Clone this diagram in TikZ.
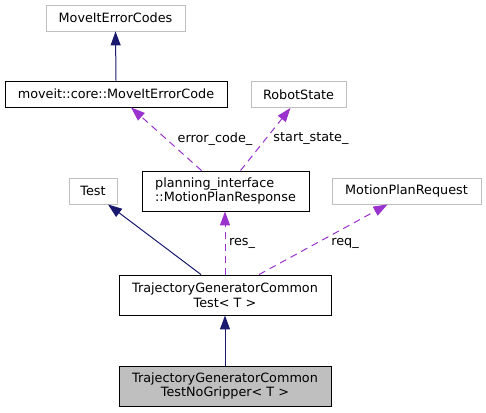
\documentclass[tikz,border=0pt]{standalone}
\usepackage{fontspec}
\setmainfont{DejaVu Sans}
\usetikzlibrary{arrows.meta}
\definecolor{edgenavy}{HTML}{191970}
\definecolor{edgeorchid}{HTML}{9A32CD}
\definecolor{boxgray}{HTML}{BFBFBF}

\begin{document}
\begin{tikzpicture}[x=1pt, y=-1pt,
    font=\fontsize{12.8}{14.8}\selectfont,
    classbox/.style={draw=black, rectangle, inner sep=0pt, line width=0.9pt, minimum height=26pt},
    extbox/.style={draw=boxgray, rectangle, inner sep=0pt, line width=0.9pt, minimum height=26pt},
    inherit/.style={-{Triangle[length=14pt, width=10pt]}, line width=1pt, edgenavy},
    usage/.style={-{Triangle[length=14pt, width=10pt]}, line width=1pt, edgeorchid, dash pattern=on 7pt off 5pt},
    edgelabel/.style={inner sep=0pt}]
                \useasboundingbox (0,0) rectangle (486,412);

                % Error codes
                \node[extbox, minimum width=139pt] (codes) at (115.5,18) {MoveItErrorCodes};
                \node[classbox, minimum width=222pt] (errcode) at (116,94) {moveit::core::MoveItErrorCode};
                \node[extbox, minimum width=95pt] (robotstate) at (298.5,94.5) {RobotState};

                % Members of the test fixture
                \node[classbox, minimum width=167pt, minimum height=40pt, align=left] (response) at (225.5,191) {planning\_interface\\::MotionPlanResponse};
                \node[extbox, minimum width=48pt] (test) at (93,191) {Test};
                \node[extbox, minimum width=149pt] (request) at (406.5,191) {MotionPlanRequest};

                % Test classes
                \node[classbox, minimum width=212pt, minimum height=40pt, align=center] (common) at (225,295) {TrajectoryGeneratorCommon\\Test< T >};
                \node[classbox, fill=boxgray, minimum width=212pt, minimum height=40pt, align=center] (nogripper) at (225,386) {TrajectoryGeneratorCommon\\TestNoGripper< T >};

                % Inheritance
                \draw[inherit] (errcode.north) -- (codes.south);
                \draw[inherit] ([xshift=-24pt]common.north) -- ([xshift=15pt]test.south);
                \draw[inherit] (nogripper.north) -- (common.south);

                % Usage
                \draw[usage] ([xshift=-24pt]response.north) -- ([xshift=15pt]errcode.south);
                \draw[usage] ([xshift=15pt]response.north) -- ([xshift=-8pt]robotstate.south);
                \draw[usage] (common.north) -- (common.north |- response.south);
                \draw[usage] ([xshift=34pt]common.north) -- ([xshift=-19pt]request.south);

                \node[edgelabel] (errlabel) at (215,139) {error\_code\_};
                \node[edgelabel] (statelabel) at (311,139) {start\_state\_};
                \node[edgelabel] (reslabel) at (242,243) {res\_};
                \node[edgelabel] (reqlabel) at (345,243) {req\_};
\end{tikzpicture}
\end{document}
